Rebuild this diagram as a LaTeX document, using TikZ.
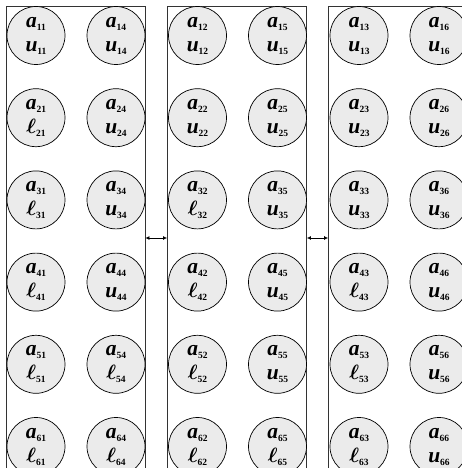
\documentclass[tikz,border=0pt]{standalone}
\usepackage{amsmath}
\usepackage{fontspec}
\setmainfont{Liberation Serif}
\usetikzlibrary{arrows.meta}

% one matrix entry: bold italic letter, bold index
\newcommand{\ent}[2]{\textbf{\textit{#1}}\raisebox{-3pt}{\fontsize{9.5}{10}\selectfont\textbf{#2}}}
\newcommand{\lell}{$\boldsymbol{\ell}$}

\begin{document}
\begin{tikzpicture}[
    x=1pt, y=-1pt,
    panel/.style={draw=black!80, line width=0.8pt, minimum width=139pt, minimum height=464pt, inner sep=0pt},
    cell/.style={circle, draw, line width=0.7pt, fill=black!8, minimum size=58pt, inner sep=0pt, align=center, font=\fontsize{21.5}{24}\selectfont},
    arrow/.style={{Latex[length=4pt,width=4pt]}-{Latex[length=4pt,width=4pt]}, line width=0.8pt}
]
\useasboundingbox (0,0) rectangle (462,468);
\node[panel] (p1) at (75.5,238) {};
\node[panel] (p2) at (237,238) {};
\node[panel] (p3) at (398,238) {};
% entries a_ij over u_ij (j >= i) or l_ij (j < i)
\foreach \i in {1,...,6} \foreach \g in {0,1,2} \foreach \k in {0,1} {
  \pgfmathtruncatemacro{\j}{\g+1+3*\k}
  \ifnum\j<\i \def\low{\lell}\else\def\low{u}\fi
  \node[cell] (c\i\j) at ({36+161.5*\g+80*\k},{35.5+82.2*(\i-1)}) {\ent{a}{\i\j}\\\ent{\low}{\i\j}};
}
\draw[arrow] (p1.east) -- (p2.west);
\draw[arrow] (p2.east) -- (p3.west);
\end{tikzpicture}
\end{document}
